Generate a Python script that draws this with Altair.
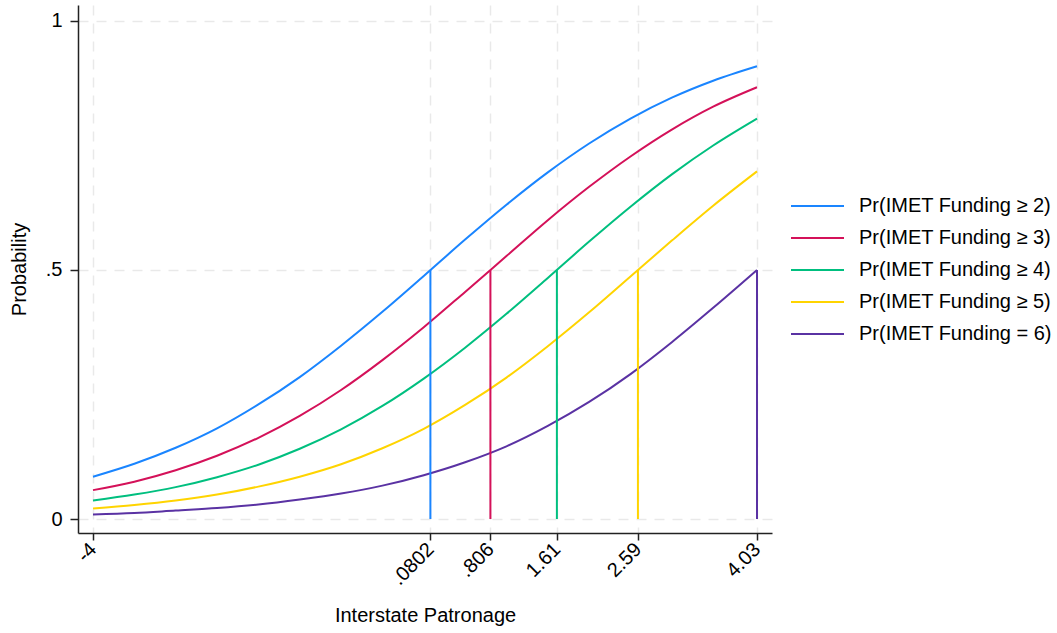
import altair as alt
import pandas as pd

# Values
x_grid = [-4, -3.5, -3, -2.5, -2, -1.5, -1, -0.5, 0, 0.5, 1, 1.5, 2, 2.5, 3, 3.5, 4.03]
p_ge2 = [0.085, 0.111, 0.143, 0.182, 0.230, 0.285, 0.348, 0.416, 0.488, 0.561, 0.631, 0.696, 0.754, 0.804, 0.846, 0.880, 0.909]
p_ge3 = [0.058, 0.075, 0.098, 0.127, 0.163, 0.207, 0.259, 0.319, 0.385, 0.456, 0.528, 0.600, 0.667, 0.728, 0.782, 0.828, 0.867]
p_ge4 = [0.037, 0.049, 0.064, 0.084, 0.109, 0.141, 0.180, 0.227, 0.282, 0.344, 0.412, 0.484, 0.557, 0.627, 0.692, 0.750, 0.804]
p_ge5 = [0.021, 0.028, 0.037, 0.049, 0.065, 0.085, 0.110, 0.142, 0.181, 0.229, 0.284, 0.347, 0.415, 0.487, 0.559, 0.629, 0.698]
p_eq6 = [0.009, 0.012, 0.017, 0.022, 0.029, 0.039, 0.051, 0.067, 0.088, 0.114, 0.146, 0.187, 0.235, 0.291, 0.355, 0.424, 0.500]

series_names = [
    "Pr(IMET Funding \u2265 2)",
    "Pr(IMET Funding \u2265 3)",
    "Pr(IMET Funding \u2265 4)",
    "Pr(IMET Funding \u2265 5)",
    "Pr(IMET Funding = 6)",
]
series_colors = ["#1a85ff", "#d41159", "#00bf7f", "#ffd400", "#5a32a3"]
thresholds = [0.0802, 0.806, 1.61, 2.59, 4.03]
x_tick_values = [-4, 0.0802, 0.806, 1.61, 2.59, 4.03]
x_tick_labels = ["-4", ".0802", ".806", "1.61", "2.59", "4.03"]
y_tick_values = [0, 0.5, 1]
y_tick_labels = ["0", ".5", "1"]

all_series = [p_ge2, p_ge3, p_ge4, p_ge5, p_eq6]
rows = []
for name, vals in zip(series_names, all_series):
    for xv, yv in zip(x_grid, vals):
        rows.append({"x": xv, "p": yv, "series": name})
curves = pd.DataFrame(rows)

drops = pd.DataFrame({
    "x": thresholds,
    "y0": [0] * len(thresholds),
    "y1": [0.5] * len(thresholds),
    "series": series_names,
})

FONT = "Liberation Sans"
FS = 20


def label_expr(values, labels):
    parts = [f"datum.value == {v} ? '{l}'" for v, l in zip(values[:-1], labels[:-1])]
    return " : ".join(parts) + f" : '{labels[-1]}'"


xscale = alt.Scale(domain=[-4.1814, 4.2114], nice=False, zero=False)
yscale = alt.Scale(domain=[-0.0281, 1.0321], nice=False, zero=False)
color = alt.Color(
    "series:N",
    scale=alt.Scale(domain=series_names, range=series_colors),
    legend=alt.Legend(
        title=None,
        orient="none",
        legendX=712,
        legendY=185,
        symbolType="stroke",
        symbolSize=2809,
        symbolStrokeWidth=2,
        labelFontSize=FS,
        labelFont=FONT,
        labelColor="#000000",
        labelOffset=14,
        rowPadding=0,
        clipHeight=32,
        labelLimit=400,
    ),
)

common_axis = dict(
    labelFontSize=FS,
    labelFont=FONT,
    labelColor="#000000",
    tickColor="#222222",
    tickWidth=1.5,
    domainColor="#222222",
    domainWidth=1.5,
    grid=True,
    gridColor="#e9e9e9",
    gridDash=[10, 8],
    gridWidth=1.5,
    titleFont=FONT,
    titleFontSize=FS,
    titleFontWeight="normal",
    titleColor="#000000",
)

xaxis = alt.Axis(
    values=x_tick_values,
    labelExpr=label_expr(x_tick_values, x_tick_labels),
    labelAngle=-45,
    labelAlign="right",
    labelBaseline="middle",
    labelPadding=6,
    tickSize=7,
    title="Interstate Patronage",
    titleBaseline="middle",
    titleY=82,
    labelOverlap=False,
    **common_axis,
)
yaxis = alt.Axis(
    values=y_tick_values,
    labelExpr=label_expr(y_tick_values, y_tick_labels),
    labelPadding=8,
    tickSize=8,
    title="Probability",
    titleAngle=270,
    titleX=-59,
    titleY=264,
    titleAlign="center",
    titleBaseline="middle",
    **common_axis,
)

lines = alt.Chart(curves).mark_line(strokeWidth=2, interpolate="monotone").encode(
    x=alt.X("x:Q", scale=xscale, axis=xaxis),
    y=alt.Y("p:Q", scale=yscale, axis=yaxis),
    color=color,
    detail="series:N",
)

rules = alt.Chart(drops).mark_rule(strokeWidth=2).encode(
    x=alt.X("x:Q", scale=xscale),
    y=alt.Y("y0:Q", scale=yscale),
    y2="y1:Q",
    color=alt.Color("series:N", scale=alt.Scale(domain=series_names, range=series_colors), legend=None),
)

chart = alt.layer(lines, rules).properties(
    width=694,
    height=528,
    autosize=alt.AutoSizeParams(type="none"),
    padding={"left": 78, "top": 5, "right": 285, "bottom": 100},
    background="white",
).configure_view(stroke=None)

chart.save("out.html", embed_options={"renderer": "svg", "actions": False})
